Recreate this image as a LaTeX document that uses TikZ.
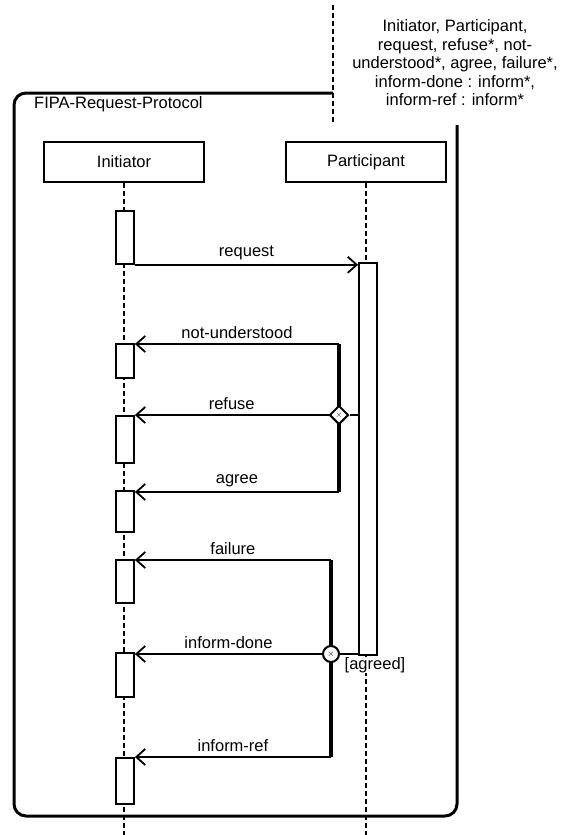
\documentclass[tikz,border=0pt]{standalone}
\usepackage{fontspec}
\setmainfont{Liberation Sans}
\usetikzlibrary{positioning,shapes.geometric,arrows.meta}

\begin{document}
\begin{tikzpicture}[x=1pt, y=-1pt,
    txt/.style={font=\fontsize{16.5}{18.5}\selectfont},
    lifebox/.style={rectangle, draw, line width=1.8pt, txt, minimum width=160pt,
                    minimum height=40pt, inner sep=0pt},
    act/.style={rectangle, draw, fill=white, line width=1.8pt, minimum width=18pt, inner sep=0pt},
    msg/.style={-{Straight Barb[length=9pt,width=16pt,line width=1.8pt]}, line width=1.8pt},
    lbl/.style={txt, inner sep=0pt},
    lifeline/.style={line width=1.8pt, dash pattern=on 5pt off 3pt},
    branch/.style={line width=4.5pt},
    frame/.style={line width=3pt, rounded corners=12pt},
    conn/.style={draw, fill=white, line width=2pt, inner sep=0pt, font=\fontsize{9}{9}\selectfont}]
    \useasboundingbox (0,0) rectangle (566,835);
    \draw[frame] (333,93) -- (14,93) -- (14,816) -- (457,816) -- (457,125);
    \node[lbl, anchor=west] (title) at (34,104) {FIPA-Request-Protocol};
    \coordinate (ntop) at (333,5); \coordinate (nbot) at (333,125);
    \draw[lifeline] (ntop) -- (nbot);
    \node[lbl, align=center] (params) at (455,63) {Initiator, Participant,\\ request, refuse*, not-\\
        understood*, agree, failure*,\\ inform-done : inform*,\\ inform-ref : inform*};
    \node[lifebox] (init) at (124,162) {Initiator};
    \node[lifebox] (part) at (366,162) {Participant};
    \coordinate (bottom) at (0,835);
    \draw[lifeline] (init.south) -- (init.south |- bottom);
    \draw[lifeline, line width=2.2pt] (part.south) -- (part.south |- bottom);
    \node[act, minimum height=53pt, anchor=north] (ia1) at (125,210) {};
    \node[act, minimum height=34pt, anchor=north] (ia2) at (125,343) {};
    \node[act, minimum height=47pt, anchor=north] (ia3) at (125,415) {};
    \node[act, minimum height=41pt, anchor=north] (ia4) at (125,490) {};
    \node[act, minimum height=43pt, anchor=north] (ia5) at (125,559) {};
    \node[act, minimum height=44pt, anchor=north] (ia6) at (125,652) {};
    \node[act, minimum height=46pt, anchor=north] (ia7) at (125,757) {};
    \node[act, minimum height=392pt, anchor=north] (pa) at (368,262) {};
    \node[lbl, fill=white, anchor=north] (agreed) at (375,657) {[agreed]};
    \draw[msg] (ia1.south east) -- (ia1.south east -| pa.west) node[lbl,midway,above=4pt]{request};
    \coordinate (b1) at (339,344); \coordinate (b1end) at (339,492);
    \draw[branch] (b1) -- (b1end);
    \node[conn, diamond, minimum size=19pt] (xor1) at (339,415) {$\times$};
    \draw[msg] (b1) -- (b1 -| ia2.east) node[lbl,midway,above=4pt]{not-understood};
    \draw[msg] (xor1.west) -- (xor1.west -| ia3.east) node[lbl,midway,above=4pt]{refuse};
    \draw[line width=1.8pt] (xor1.east) -- (xor1.east -| pa.west);
    \draw[msg] (b1end) -- (b1end -| ia4.east) node[lbl,midway,above=4pt]{agree};
    \coordinate (b2) at (331,560); \coordinate (b2end) at (331,757);
    \draw[branch] (b2) -- (b2end);
    \node[conn, circle, minimum size=16pt] (xor2) at (331,654) {$\times$};
    \draw[msg] (b2) -- (b2 -| ia5.east) node[lbl,midway,above=4pt]{failure};
    \draw[msg] (xor2.west) -- (xor2.west -| ia6.east) node[lbl,midway,above=4pt]{inform-done};
    \draw[line width=1.8pt] (xor2.east) -- (xor2.east -| pa.west);
    \draw[msg] (b2end) -- (b2end -| ia7.east) node[lbl,midway,above=4pt]{inform-ref};
\end{tikzpicture}
\end{document}
